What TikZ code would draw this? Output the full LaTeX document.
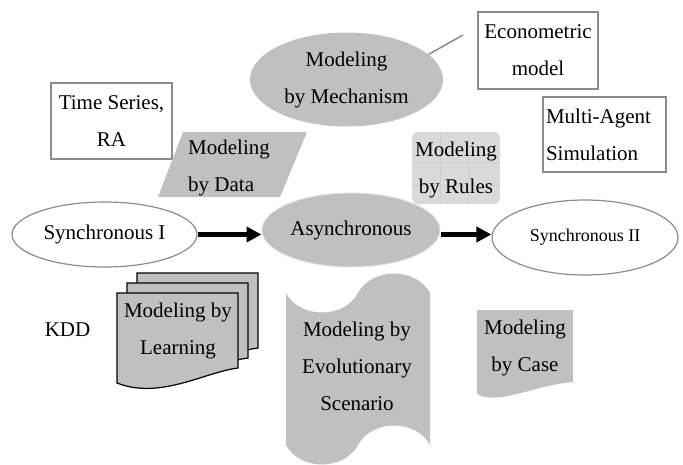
\documentclass[tikz,border=0pt]{standalone}
\usepackage{fontspec}
\setmainfont{Liberation Serif}
\usetikzlibrary{shapes.geometric,arrows.meta,calc}
\definecolor{shade}{HTML}{C0C0C0}
\definecolor{frame}{HTML}{8C8C8C}
\definecolor{rulefill}{HTML}{DADADA}
\definecolor{rulegrid}{HTML}{CDCDCD}
\newcommand\mydocpage[1]{\draw[black, line width=1.2pt, fill=shade, shift={#1}] (117,293) -- (238,293) -- (238,368) .. controls (205,372) and (160,400) .. (117,383) -- cycle;}
\begin{document}
\begin{tikzpicture}[x=1pt,y=-1pt,
  txt/.style={font=\fontsize{21}{37}\selectfont, align=center, inner sep=0pt},
  oval/.style={ellipse, txt},
  boxed/.style={draw=frame, line width=1.3pt, fill=white, txt},
  flow/.style={line width=5pt, -{Triangle[length=15pt,width=15pt]}}]
\useasboundingbox (0,0) rectangle (683,464);
% mechanism
\node[oval, fill=shade, minimum width=193pt, minimum height=94pt] (mech) at (346.5,79.5) {Modeling\\by Mechanism};
\node[boxed, minimum width=120pt, minimum height=77pt] (econ) at (538,50.5) {Econometric\\model};
\coordinate (econtip) at (463,35);
\draw[frame, line width=1.5pt] (mech.17) -- (econtip);
% time series
\node[boxed, minimum width=121pt, minimum height=76pt] (ts) at (111.5,121) {Time Series,\\RA};
% data
\path[fill=shade] (183,132) -- (307,132) -- (280,197) -- (158,197) -- cycle;
\node[txt, align=left, anchor=west] (data) at (188,168) {Modeling\\by Data};
% multi-agent
\node[boxed, minimum width=123pt, minimum height=75pt, align=left, text width=117pt] (mas) at (604.5,134.5) {Multi-Agent\\Simulation};
% rules
\node[txt, fill=rulefill, rounded corners=6pt, minimum width=88pt, minimum height=72pt] (rulesbg) at (456,168) {};
\begin{scope}
\clip[rounded corners=6pt] (rulesbg.north west) rectangle (rulesbg.south east);
\draw[rulegrid, line width=0.5pt] (440,132) -- (440,204) (468,132) -- (468,204) (412,162) -- (500,162) (412,185) -- (500,185);
\end{scope}
\node[txt] (rules) at (456,170) {Modeling\\by Rules};
% ellipses
\node[oval, draw=frame, line width=1.2pt, fill=white, minimum width=185pt, minimum height=65pt] (syncI) at (104.5,234.5) {Synchronous I};
\node[oval, draw=black!12, line width=1pt, fill=shade, minimum width=178pt, minimum height=74pt] (async) at (351,230) {Asynchronous};
\node[oval, draw=frame, line width=1.2pt, fill=white, minimum width=186pt, minimum height=75pt, font=\fontsize{18}{30}\selectfont] (syncII) at (585,237.5) {Synchronous II};
\draw[flow] (syncI.east) -- (syncI.east -| async.west);
\draw[flow] (async.east |- syncI.east) -- (syncII.west |- syncI.east);
% learning
\mydocpage{(20,-20)}
\mydocpage{(10,-10)}
\mydocpage{(0,0)}
\node[txt] (learn) at (178,330.5) {Modeling by\\Learning};
\node[txt] (kdd) at (67.5,330) {KDD};
% evolutionary
\path[fill=shade] (286,293) .. controls (300,319) and (344,319) .. (358,293) .. controls (372,267) and (416,267) .. (430,293) -- (430,445) .. controls (416,419) and (372,419) .. (358,445) .. controls (344,471) and (300,471) .. (286,445) -- cycle;
\node[txt] (evo) at (357,366.5) {Modeling by\\Evolutionary\\Scenario};
% case
\path[fill=shade] (477,310) -- (573,310) -- (573,382) .. controls (535,385) and (497,406) .. (477,394) -- cycle;
\node[txt] (case) at (525,347.5) {Modeling\\by Case};
\end{tikzpicture}
\end{document}
